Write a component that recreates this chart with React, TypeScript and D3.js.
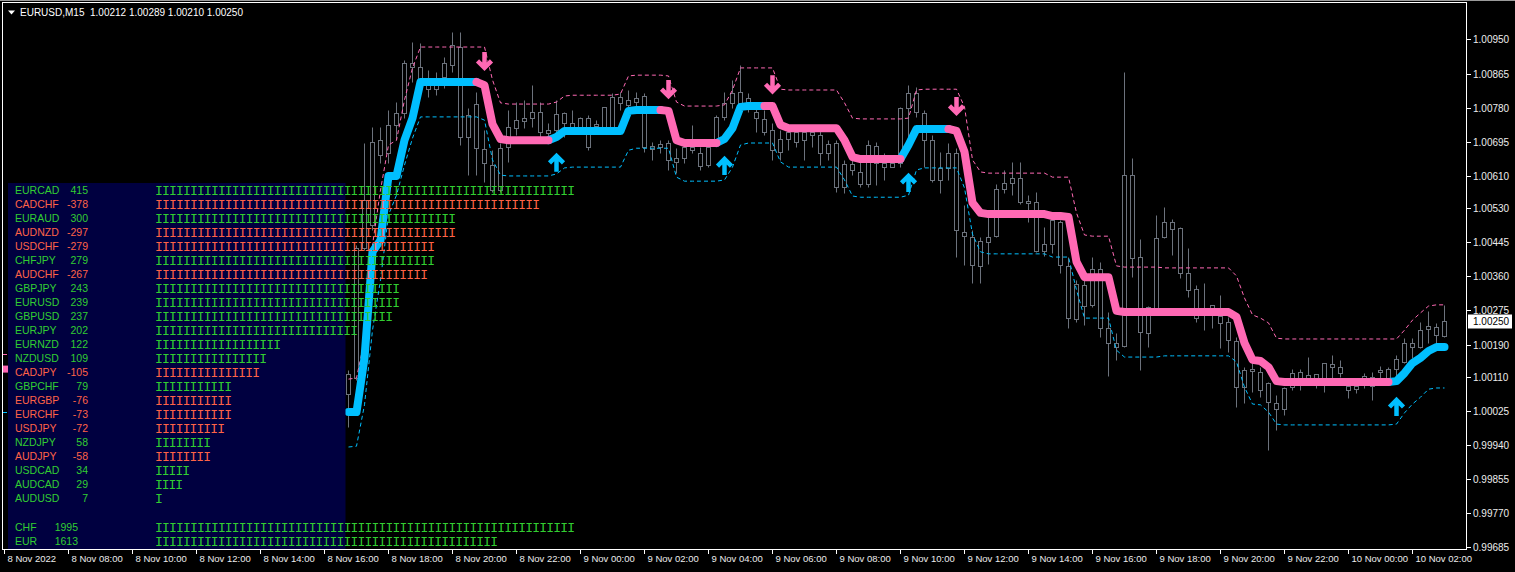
import React from "react";
import * as d3 from "d3";

// ---------------- DATA ----------------
const title = "EURUSD,M15";
const lastQuote = [1.00212, 1.00289, 1.0021, 1.0025];

const timeLabels = [
  "8 Nov 2022", "8 Nov 08:00", "8 Nov 10:00", "8 Nov 12:00", "8 Nov 14:00", "8 Nov 16:00",
  "8 Nov 18:00", "8 Nov 20:00", "8 Nov 22:00", "9 Nov 00:00", "9 Nov 02:00", "9 Nov 04:00",
  "9 Nov 06:00", "9 Nov 08:00", "9 Nov 10:00", "9 Nov 12:00", "9 Nov 14:00", "9 Nov 16:00",
  "9 Nov 18:00", "9 Nov 20:00", "9 Nov 22:00", "10 Nov 00:00", "10 Nov 02:00",
];
// 15-minute slots counted from 8 Nov 06:00
const timeLabelSlots = [0, 8, 16, 24, 32, 40, 48, 56, 64, 72, 80, 88, 96, 104, 112, 120, 128, 136, 144, 152, 160, 168, 176];
const firstBarSlot = 43; // first visible bar: 8 Nov 16:45

const priceTicks = [1.0095, 1.00865, 1.0078, 1.00695, 1.0061, 1.0053, 1.00445, 1.0036, 1.00275, 1.0019, 1.0011, 1.00025, 0.9994, 0.99855, 0.9977, 0.99685];

// [open, high, low, close]
const ohlc: number[][] = [
  [1.00067, 1.00127, 0.99985, 1.00117], [1.00107, 1.00438, 1.00102, 1.0043], [1.0043, 1.00692, 1.00426, 1.0055], [1.00488, 1.00732, 1.00475, 1.00694], [1.00662, 1.00732, 1.00642, 1.00699],
  [1.00667, 1.00774, 1.00642, 1.00737], [1.00737, 1.00794, 1.00699, 1.00767], [1.00767, 1.00899, 1.00754, 1.00891], [1.00891, 1.00943, 1.00844, 1.00881], [1.00881, 1.00941, 1.00816, 1.00849],
  [1.00836, 1.00874, 1.00806, 1.00826], [1.00826, 1.00869, 1.00811, 1.00836], [1.00856, 1.00906, 1.00829, 1.00891], [1.00886, 1.00968, 1.00869, 1.00936], [1.00931, 1.00968, 1.00687, 1.00707],
  [1.00707, 1.00779, 1.00612, 1.00762], [1.00789, 1.00819, 1.00612, 1.00679], [1.00677, 1.00724, 1.00595, 1.00642], [1.00637, 1.00674, 1.0057, 1.00575], [1.00575, 1.00692, 1.0057, 1.00679],
  [1.00682, 1.00774, 1.00645, 1.00732], [1.00749, 1.00794, 1.00712, 1.00729], [1.00747, 1.00799, 1.00729, 1.00754], [1.00754, 1.00836, 1.00732, 1.00769], [1.00769, 1.00794, 1.00707, 1.00719],
  [1.00717, 1.00742, 1.00707, 1.00724], [1.00724, 1.00799, 1.00719, 1.00764], [1.00767, 1.00769, 1.00707, 1.00742], [1.00742, 1.00774, 1.00717, 1.00732], [1.00732, 1.00757, 1.00717, 1.00754],
  [1.00754, 1.00762, 1.00674, 1.00682], [1.00734, 1.00749, 1.00724, 1.00739], [1.00732, 1.00782, 1.00724, 1.00782], [1.00732, 1.00816, 1.00724, 1.00806], [1.00806, 1.00819, 1.00774, 1.00792],
  [1.00799, 1.00824, 1.00757, 1.00787], [1.00794, 1.00819, 1.00767, 1.00804], [1.00809, 1.00816, 1.0067, 1.00682], [1.00684, 1.00694, 1.0065, 1.00677], [1.00682, 1.00699, 1.00667, 1.00689],
  [1.00692, 1.00699, 1.00625, 1.0065], [1.00655, 1.00679, 1.00617, 1.00645], [1.00655, 1.00692, 1.00642, 1.00682], [1.00682, 1.00737, 1.00667, 1.00674], [1.00667, 1.00682, 1.00625, 1.00635],
  [1.00637, 1.00692, 1.00632, 1.00682], [1.00699, 1.00762, 1.00687, 1.00757], [1.00757, 1.00819, 1.00749, 1.00792], [1.00792, 1.00849, 1.00779, 1.00816], [1.00819, 1.00886, 1.00774, 1.00792],
  [1.00794, 1.00816, 1.00769, 1.00804], [1.00769, 1.00794, 1.00719, 1.00754], [1.00752, 1.00774, 1.00712, 1.00719], [1.00724, 1.00742, 1.0065, 1.00674], [1.0067, 1.00724, 1.0065, 1.00702],
  [1.00702, 1.00732, 1.00674, 1.00719], [1.00719, 1.00732, 1.00682, 1.00694], [1.00699, 1.00732, 1.0065, 1.00719], [1.00719, 1.00732, 1.00682, 1.00712], [1.00712, 1.00724, 1.00637, 1.00667],
  [1.00667, 1.00699, 1.0065, 1.00689], [1.00692, 1.00699, 1.0057, 1.00582], [1.00582, 1.0065, 1.00567, 1.0064], [1.0064, 1.00657, 1.00612, 1.00625], [1.0062, 1.00645, 1.00582, 1.0059],
  [1.0059, 1.00699, 1.00582, 1.00687], [1.00684, 1.00694, 1.00587, 1.00642], [1.00642, 1.00667, 1.006, 1.00632], [1.00632, 1.00657, 1.00632, 1.00642], [1.00642, 1.00782, 1.00632, 1.00779],
  [1.00779, 1.00836, 1.00699, 1.00816], [1.00816, 1.00831, 1.00757, 1.00769], [1.00767, 1.00774, 1.00632, 1.00699], [1.00699, 1.00712, 1.00595, 1.006], [1.006, 1.0067, 1.00567, 1.0063],
  [1.0063, 1.00692, 1.006, 1.00667], [1.00667, 1.00679, 1.00408, 1.00475], [1.0047, 1.00538, 1.00388, 1.0046], [1.00458, 1.00475, 1.00343, 1.00388], [1.00386, 1.00458, 1.00343, 1.00448],
  [1.00445, 1.00508, 1.00391, 1.00458], [1.0046, 1.0059, 1.00458, 1.00577], [1.00577, 1.00625, 1.00567, 1.00592], [1.00592, 1.00645, 1.00562, 1.00605], [1.00605, 1.00645, 1.0054, 1.00545],
  [1.00548, 1.00562, 1.00495, 1.00543], [1.00545, 1.0057, 1.00421, 1.00423], [1.00423, 1.00483, 1.00411, 1.0044], [1.0044, 1.00508, 1.00418, 1.005], [1.00495, 1.005, 1.00368, 1.00388],
  [1.00386, 1.00408, 1.00231, 1.00256], [1.00254, 1.00351, 1.00246, 1.00341], [1.00338, 1.00358, 1.00239, 1.00286], [1.00289, 1.00408, 1.00284, 1.00378], [1.00378, 1.00396, 1.00209, 1.00231],
  [1.00231, 1.00271, 1.00112, 1.00194], [1.00194, 1.00219, 1.00152, 1.00184], [1.00186, 1.00869, 1.00184, 1.00612], [1.00612, 1.00655, 1.00358, 1.00406], [1.00408, 1.00453, 1.00127, 1.00221],
  [1.00219, 1.00286, 1.00184, 1.00284], [1.00271, 1.00513, 1.00269, 1.00455], [1.00458, 1.00533, 1.00455, 1.00495], [1.00495, 1.00503, 1.00413, 1.00478], [1.0048, 1.00483, 1.00356, 1.00368],
  [1.00368, 1.0043, 1.00308, 1.00326], [1.00328, 1.00338, 1.00246, 1.00256], [1.00271, 1.00343, 1.00226, 1.00281], [1.00276, 1.00289, 1.00231, 1.00289], [1.00261, 1.00313, 1.00181, 1.00244],
  [1.00246, 1.00259, 1.00172, 1.00201], [1.00199, 1.00209, 1.00035, 1.00084], [1.00084, 1.00134, 1.00045, 1.00127], [1.00129, 1.00152, 1.00072, 1.00124], [1.00122, 1.00134, 1.00059, 1.00077],
  [1.00094, 1.00097, 0.99927, 1.00047], [1.00045, 1.00064, 0.99977, 1.0003], [1.0003, 1.00084, 1.00015, 1.00082], [1.00084, 1.00129, 1.00077, 1.00119], [1.00122, 1.00129, 1.00077, 1.00104],
  [1.00107, 1.00159, 1.00094, 1.00114], [1.00117, 1.00117, 1.00082, 1.00107], [1.00104, 1.00144, 1.00072, 1.00144], [1.00142, 1.00164, 1.00102, 1.00134], [1.00134, 1.00152, 1.00109, 1.00119],
  [1.00087, 1.00102, 1.00057, 1.00077], [1.00079, 1.00102, 1.00069, 1.00087], [1.00107, 1.00119, 1.00082, 1.00112], [1.00109, 1.00122, 1.00052, 1.00087], [1.00122, 1.00137, 1.00102, 1.00127],
  [1.00129, 1.00134, 1.00102, 1.00107], [1.00129, 1.00164, 1.00102, 1.00154], [1.00147, 1.00206, 1.00144, 1.00194], [1.00194, 1.00206, 1.00157, 1.00184], [1.00184, 1.00246, 1.00181, 1.00226],
  [1.00229, 1.00274, 1.00194, 1.00236], [1.00234, 1.00244, 1.00194, 1.00214], [1.00212, 1.00289, 1.0021, 1.0025],
];

const trendLine = [
  1.00022, 1.00022, 1.00157, 1.00421, 1.0045, 1.0061, 1.0061, 1.00699, 1.00754, 1.00844,
  1.00844, 1.00844, 1.00844, 1.00844, 1.00844, 1.00844, 1.00844, 1.00836, 1.00739, 1.00702,
  1.00699, 1.00699, 1.00699, 1.00699, 1.00699, 1.00699, 1.00707, 1.00722, 1.00722, 1.00722,
  1.00722, 1.00722, 1.00722, 1.00722, 1.00722, 1.00772, 1.00774, 1.00774, 1.00774, 1.00774,
  1.00772, 1.00699, 1.00692, 1.00692, 1.00692, 1.00692, 1.00692, 1.00702, 1.00729, 1.00782,
  1.00784, 1.00784, 1.00784, 1.00784, 1.00737, 1.00729, 1.00729, 1.00729, 1.00729, 1.00729,
  1.00729, 1.00729, 1.00699, 1.00657, 1.00652, 1.00652, 1.00652, 1.00652, 1.00652, 1.00652,
  1.00687, 1.00727, 1.00727, 1.00727, 1.00727, 1.00727, 1.00722, 1.0067, 1.00543, 1.00518,
  1.00515, 1.00515, 1.00515, 1.00515, 1.00515, 1.00515, 1.00515, 1.00515, 1.0051, 1.0051,
  1.00508, 1.00396, 1.00358, 1.00358, 1.00358, 1.00358, 1.00274, 1.00271, 1.00271, 1.00271,
  1.00271, 1.00271, 1.00271, 1.00271, 1.00271, 1.00271, 1.00271, 1.00271, 1.00271, 1.00271,
  1.00271, 1.00259, 1.00194, 1.00152, 1.00149, 1.00134, 1.00099, 1.00097, 1.00097, 1.00097,
  1.00097, 1.00097, 1.00097, 1.00097, 1.00097, 1.00097, 1.00097, 1.00097, 1.00097, 1.00097,
  1.00097, 1.00099, 1.00119, 1.00144, 1.00157, 1.00174, 1.00184, 1.00184,
];
const upSpans = [[0, 16], [25, 39], [46, 52], [69, 75], [130, 137]];
const downSpans = [[16, 25], [39, 46], [52, 69], [75, 130]];

const upperBand = [
  1.00104, 1.00107, 1.00201, 1.00438, 1.00575, 1.00687, 1.00699, 1.00799, 1.00879, 1.00931,
  1.00931, 1.00931, 1.00931, 1.00931, 1.00931, 1.00931, 1.00931, 1.00931, 1.00849, 1.00792,
  1.00789, 1.00789, 1.00789, 1.00789, 1.00789, 1.00789, 1.00794, 1.00809, 1.00811, 1.00811,
  1.00811, 1.00811, 1.00811, 1.00811, 1.00814, 1.00859, 1.00861, 1.00861, 1.00861, 1.00861,
  1.00859, 1.00794, 1.00784, 1.00784, 1.00784, 1.00784, 1.00784, 1.00787, 1.00824, 1.00879,
  1.00879, 1.00879, 1.00879, 1.00879, 1.00826, 1.00824, 1.00824, 1.00824, 1.00824, 1.00824,
  1.00824, 1.00824, 1.00792, 1.00754, 1.00752, 1.00752, 1.00752, 1.00752, 1.00752, 1.00752,
  1.00754, 1.00824, 1.00826, 1.00826, 1.00826, 1.00826, 1.00826, 1.00782, 1.0065, 1.0062,
  1.00617, 1.00617, 1.00617, 1.00617, 1.00617, 1.00617, 1.00617, 1.00617, 1.00607, 1.00607,
  1.00607, 1.00518, 1.00463, 1.0046, 1.0046, 1.0046, 1.00386, 1.00383, 1.00383, 1.00383,
  1.00383, 1.00383, 1.00381, 1.00381, 1.00381, 1.00381, 1.00381, 1.00381, 1.00381, 1.00381,
  1.00381, 1.00361, 1.00306, 1.00264, 1.00256, 1.00244, 1.00206, 1.00204, 1.00204, 1.00204,
  1.00204, 1.00204, 1.00204, 1.00204, 1.00204, 1.00204, 1.00204, 1.00204, 1.00204, 1.00204,
  1.00204, 1.00204, 1.00226, 1.00251, 1.00269, 1.00286, 1.00289, 1.00289,
];

const lowerBand = [
  0.99935, 0.99937, 1.0004, 1.00226, 1.00351, 1.00513, 1.00562, 1.00637, 1.00704, 1.00757,
  1.00757, 1.00757, 1.00757, 1.00757, 1.00757, 1.00757, 1.00757, 1.00749, 1.0065, 1.00612,
  1.0061, 1.0061, 1.0061, 1.0061, 1.0061, 1.0061, 1.00615, 1.0063, 1.00632, 1.00632,
  1.00632, 1.00632, 1.00632, 1.00632, 1.00632, 1.00674, 1.00679, 1.00679, 1.00679, 1.00679,
  1.00679, 1.00607, 1.00597, 1.00597, 1.00597, 1.00597, 1.00597, 1.006, 1.00632, 1.00687,
  1.00692, 1.00692, 1.00692, 1.00692, 1.00645, 1.00632, 1.00632, 1.00632, 1.00632, 1.00632,
  1.00632, 1.00632, 1.006, 1.0056, 1.00557, 1.00557, 1.00557, 1.00557, 1.00557, 1.00557,
  1.00562, 1.00625, 1.0063, 1.0063, 1.0063, 1.0063, 1.0063, 1.0058, 1.00465, 1.00421,
  1.00416, 1.00416, 1.00416, 1.00416, 1.00416, 1.00416, 1.00416, 1.00416, 1.00408, 1.00408,
  1.00408, 1.00326, 1.00256, 1.00256, 1.00256, 1.00256, 1.00176, 1.00159, 1.00159, 1.00159,
  1.00159, 1.00159, 1.00162, 1.00162, 1.00162, 1.00162, 1.00162, 1.00162, 1.00162, 1.00162,
  1.00162, 1.00147, 1.00084, 1.00042, 1.0004, 1.00022, 0.99992, 0.9999, 0.9999, 0.9999,
  0.9999, 0.9999, 0.9999, 0.9999, 0.9999, 0.9999, 0.9999, 0.9999, 0.9999, 0.9999,
  0.9999, 0.99992, 1.0002, 1.00042, 1.00059, 1.00079, 1.00082, 1.00082,
];

// arrows: [bar index, tip price]
const sellArrows = [[17, 1.00869], [40, 1.00799], [53, 1.00811], [76, 1.00757]];
const buyArrows = [[26, 1.0067], [47, 1.00662], [70, 1.0062], [131, 1.00062]];

// indicator values at the chart's left edge (visible left of the panel)
const leftEdgeLevels = [1.00129, 1.00167, 1.00022]; // trend, upper, lower

const pairNames = ["EURCAD", "CADCHF", "EURAUD", "AUDNZD", "USDCHF", "CHFJPY", "AUDCHF", "GBPJPY", "EURUSD", "GBPUSD", "EURJPY", "EURNZD", "NZDUSD", "CADJPY", "GBPCHF", "EURGBP", "EURCHF", "USDJPY", "NZDJPY", "AUDJPY", "USDCAD", "AUDCAD", "AUDUSD"];
const pairValues = [415, -378, 300, -297, -279, 279, -267, 243, 239, 237, 202, 122, 109, -105, 79, -76, -73, -72, 58, -58, 34, 29, 7];
const currencyNames = ["CHF", "EUR"];
const currencyValues = [1995, 1613];

// ---------------- STYLE ----------------
const CANDLE = "#6c727c";
const UP = "#00BFFF";
const DOWN = "#FF69B4";
const GREEN = "#32CD32";
const RED = "#FF6347";
const AXIS = "#ececec";
const FONT = "'Liberation Sans', Arial, sans-serif";
const MONO = "'Liberation Mono', 'DejaVu Sans Mono', monospace";

export default function App() {
  const W = 1515;
  const H = 572;
  const x = d3.scaleLinear().domain([0, 180]).range([4.5, 1444.5]);
  const y = d3.scaleLinear().domain([0.99685, 1.0095]).range([547.4, 39.4]);
  const barX = (i: number) => x(firstBarSlot + i);
  const py = (v: number) => Math.round(y(v)) + 0.5;

  const spanPath = (vals: number[], span: number[]) =>
    d3.line<number>().x((i) => barX(i)).y((i) => y(vals[i])).curve(d3.curveLinear)(d3.range(span[0], span[1] + 1)) || "";
  const bandPath = (vals: number[]) =>
    d3.line<number>().x((_, i) => barX(i)).y((v) => y(v))(vals) || "";

  const pairBars = d3.scaleLinear().domain([0, 414]).range([0, 60]);
  const curBars = d3.scaleLinear().domain([0, 1995]).range([0, 60]);

  const arrowDown = (cx: number, ty: number) =>
    `M${cx},${ty - 20}V${ty - 4}M${cx - 7},${ty - 11}L${cx},${ty - 4}L${cx + 7},${ty - 11}`;
  const arrowUp = (cx: number, ty: number) =>
    `M${cx},${ty + 20}V${ty + 4}M${cx - 7},${ty + 11}L${cx},${ty + 4}L${cx + 7},${ty + 11}`;

  const rowY = (i: number) => 190 + 14 * i;

  return (
    <svg width={W} height={H} style={{ position: "fixed", left: 0, top: 0, display: "block", background: "#000" }}>
      <rect x={0} y={0} width={W} height={H} fill="#000" />
      <rect x={0} y={0} width={W} height={1} fill="#9a9a9a" />

      {/* candles */}
      <g>
        {ohlc.map(([o, h, l, c], i) => {
          const cx = barX(i);
          const top = py(Math.max(o, c));
          const bot = py(Math.min(o, c));
          return (
            <g key={i}>
              <line x1={cx} x2={cx} y1={py(h)} y2={py(l)} stroke={CANDLE} strokeWidth={1} />
              {bot - top >= 1 ? (
                <rect x={cx - 2} y={top} width={4} height={bot - top} fill="#000" stroke={CANDLE} strokeWidth={1} />
              ) : (
                <line x1={cx - 2} x2={cx + 2} y1={top} y2={top} stroke={CANDLE} strokeWidth={1} />
              )}
            </g>
          );
        })}
      </g>

      {/* bands */}
      <path d={bandPath(upperBand)} fill="none" stroke={DOWN} strokeWidth={1} strokeDasharray="4,3" />
      <path d={bandPath(lowerBand)} fill="none" stroke={UP} strokeWidth={1} strokeDasharray="4,3" />

      {/* trend line */}
      {upSpans.map((s, i) => (
        <path key={"u" + i} d={spanPath(trendLine, s)} fill="none" stroke={UP} strokeWidth={8} strokeLinecap="round" strokeLinejoin="round" />
      ))}
      {downSpans.map((s, i) => (
        <path key={"d" + i} d={spanPath(trendLine, s)} fill="none" stroke={DOWN} strokeWidth={8} strokeLinecap="round" strokeLinejoin="round" />
      ))}

      {/* arrows */}
      {sellArrows.map(([b, p], i) => (
        <path key={"s" + i} d={arrowDown(barX(b), y(p))} fill="none" stroke={DOWN} strokeWidth={4.5} strokeLinejoin="miter" />
      ))}
      {buyArrows.map(([b, p], i) => (
        <path key={"b" + i} d={arrowUp(barX(b), y(p))} fill="none" stroke={UP} strokeWidth={4.5} strokeLinejoin="miter" />
      ))}

      {/* left edge indicator remnants */}
      <rect x={3} y={y(leftEdgeLevels[0]) - 3.5} width={5} height={7} fill={DOWN} />
      <line x1={3} x2={7} y1={py(leftEdgeLevels[1])} y2={py(leftEdgeLevels[1])} stroke={DOWN} />
      <line x1={3} x2={7} y1={py(leftEdgeLevels[2])} y2={py(leftEdgeLevels[2])} stroke={UP} />

      {/* strength panel */}
      <rect x={8} y={183} width={337.5} height={366.5} fill="#000040" />
      <g fontFamily={FONT} fontSize={10.5}>
        {pairNames.map((n, i) => {
          const v = pairValues[i];
          const col = v >= 0 ? GREEN : RED;
          const k = Math.round(pairBars(Math.abs(v)));
          return (
            <g key={n} fill={col}>
              <text x={15} y={rowY(i) + 4}>{n}</text>
              <text x={88} y={rowY(i) + 4} textAnchor="end">{String(v)}</text>
              <text x={155} y={rowY(i) + 5} fontFamily={MONO} fontSize={13}
                textLength={k * 7} lengthAdjust="spacing">{"I".repeat(k)}</text>
            </g>
          );
        })}
        {currencyNames.map((n, i) => {
          const v = currencyValues[i];
          const col = v >= 0 ? GREEN : RED;
          const k = Math.round(curBars(Math.abs(v)));
          const yy = 527 + 14 * i;
          return (
            <g key={n} fill={col}>
              <text x={15} y={yy + 4}>{n}</text>
              <text x={78} y={yy + 4} textAnchor="end">{String(v)}</text>
              <text x={155} y={yy + 5} fontFamily={MONO} fontSize={13}
                textLength={k * 7} lengthAdjust="spacing">{"I".repeat(k)}</text>
            </g>
          );
        })}
      </g>

      {/* frame */}
      <rect x={2.5} y={2.5} width={1464} height={547} fill="none" stroke="#ffffff" strokeWidth={1} />

      {/* price axis */}
      <g fontFamily={FONT} fontSize={10} fill={AXIS}>
        {priceTicks.map((p) => (
          <g key={p}>
            <line x1={1467} x2={1471} y1={py(p)} y2={py(p)} stroke="#ffffff" />
            <text x={1473} y={py(p) + 3.5}>{p.toFixed(5)}</text>
          </g>
        ))}
      </g>
      <rect x={1468} y={py(lastQuote[3]) - 7} width={44} height={14} fill="#ffffff" />
      <text x={1473} y={py(lastQuote[3]) + 3.5} fontFamily={FONT} fontSize={10} fill="#000">{lastQuote[3].toFixed(5)}</text>

      {/* time axis */}
      <g fontFamily={FONT} fontSize={9.5} fill={AXIS}>
        {timeLabels.map((t, i) => {
          const tx = x(timeLabelSlots[i]);
          return (
            <g key={t}>
              <line x1={tx} x2={tx} y1={550} y2={554} stroke="#ffffff" />
              <text x={tx + 3} y={562}>{t}</text>
            </g>
          );
        })}
      </g>

      {/* title */}
      <path d="M8,10.5 L15,10.5 L11.5,14.5 Z" fill="#ffffff" />
      <text x={20} y={16} fontFamily={FONT} fontSize={10} fill="#ffffff" style={{ whiteSpace: "pre" }}>
        {title + "  " + lastQuote.map((q) => q.toFixed(5)).join(" ")}
      </text>
    </svg>
  );
}
